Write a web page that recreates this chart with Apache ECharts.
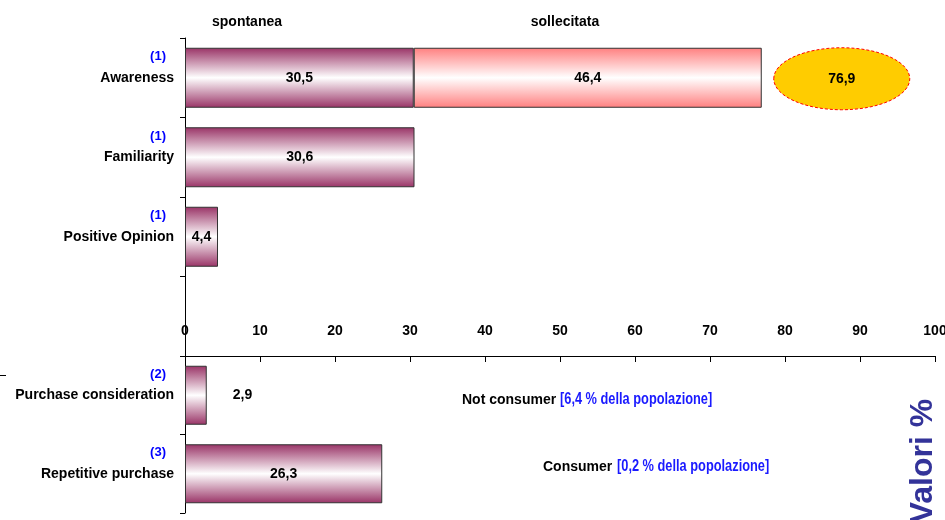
<!DOCTYPE html>
<html><head><meta charset="utf-8">
<script src="https://cdn.jsdelivr.net/npm/echarts@6/dist/echarts.min.js"></script>
<style>html,body{margin:0;padding:0;background:#fff}#c{width:945px;height:520px}</style>
</head><body><div id="c"></div>
<script>
// ---- data ----
const topCategories = ['Awareness', 'Familiarity', 'Positive Opinion', ''];
const topNotes = ['(1)', '(1)', '(1)', ''];
const spontanea = [30.5, 30.6, 4.4, null];
const sollecitata = [46.4, null, null, null];
const bottomCategories = ['Purchase consideration', 'Repetitive purchase'];
const bottomNotes = ['(2)', '(3)'];
const purchase = [2.9, 26.3];
const segmentHeaders = ['spontanea', 'sollecitata'];
const consumerLabels = ['Not consumer', 'Consumer'];
const consumerShares = ['[6,4 % della popolazione]', '[0,2 % della popolazione]'];
const unitLabel = 'Valori %';

// ---- helpers ----
const SANS = '"Liberation Sans", Arial, Helvetica, sans-serif';
const fmt = v => (v == null ? '' : Number(v).toFixed(1).replace('.', ','));
const grad = edge => ({type: 'linear', x: 0, y: 0, x2: 0, y2: 1, colorStops: [
  {offset: 0, color: edge}, {offset: 0.5, color: '#ffffff'}, {offset: 1, color: edge}]});
const MAROON = '#993366', PINK = '#ff7f7f';
const total = spontanea[0] + sollecitata[0];

const catLabel = notes => ({
  margin: 11,
  formatter: (v, i) => v ? '{n|' + notes[i] + '}\n{c|' + v + '}\n{e| }' : '',
  rich: {
    n: {color: '#0000ff', fontFamily: SANS, fontWeight: 'bold', fontSize: 13, lineHeight: 21, padding: [0, 8, 0, 0]},
    c: {color: '#000', fontFamily: SANS, fontWeight: 'bold', fontSize: 14, lineHeight: 21},
    e: {fontSize: 14, lineHeight: 21}
  }
});
const yAxisBase = {
  type: 'category', inverse: true,
  axisLine: {show: true, lineStyle: {color: '#000', width: 1}},
  axisTick: {show: true, length: 5, lineStyle: {color: '#000'}},
  splitLine: {show: false}
};
const barLabel = {show: true, position: 'inside', formatter: p => fmt(p.value),
  color: '#000', fontFamily: SANS, fontWeight: 'bold', fontSize: 14};
const barStyle = edge => ({color: grad(edge), borderColor: '#333', borderWidth: 1});

const chart = echarts.init(document.getElementById('c'), null, {renderer: 'canvas'});
chart.setOption({
  animation: false,
  backgroundColor: '#fff',
  grid: [
    {left: 185, right: 10, top: 38, height: 318, outerBoundsMode: 'none', containLabel: false},
    {left: 185, right: 10, top: 356, height: 157, outerBoundsMode: 'none', containLabel: false}
  ],
  xAxis: [
    {gridIndex: 0, type: 'value', min: 0, max: 100, interval: 10,
     axisLine: {show: true, lineStyle: {color: '#000', width: 1}},
     axisTick: {show: true, inside: false, length: 6, lineStyle: {color: '#000'}},
     axisLabel: {inside: true, margin: 18, color: '#000', fontFamily: SANS, fontWeight: 'bold', fontSize: 14},
     splitLine: {show: false}},
    {gridIndex: 1, type: 'value', min: 0, max: 100, show: false}
  ],
  yAxis: [
    Object.assign({}, yAxisBase, {gridIndex: 0, data: topCategories, axisLabel: catLabel(topNotes)}),
    Object.assign({}, yAxisBase, {gridIndex: 1, data: bottomCategories, axisLabel: catLabel(bottomNotes)})
  ],
  series: [
    {name: segmentHeaders[0], type: 'bar', xAxisIndex: 0, yAxisIndex: 0, stack: 'a', barWidth: 60,
     data: spontanea, itemStyle: barStyle(MAROON), label: barLabel},
    {name: segmentHeaders[1], type: 'bar', xAxisIndex: 0, yAxisIndex: 0, stack: 'a', barWidth: 60,
     data: sollecitata, itemStyle: barStyle(PINK), label: barLabel},
    {type: 'custom', xAxisIndex: 0, yAxisIndex: 0, z: 5,
     data: [[total, 0]],
     renderItem: (params, api) => {
       const p = api.coord([api.value(0), api.value(1)]);
       const cx = p[0] + 80, cy = p[1] + 1;
       return {type: 'group', children: [
         {type: 'ellipse', shape: {cx: cx, cy: cy, rx: 68, ry: 31},
          style: {fill: '#ffcc00', stroke: '#ff0000', lineWidth: 1, lineDash: [3, 2]}},
         {type: 'text', x: cx, y: cy, style: {text: fmt(api.value(0)), align: 'center', verticalAlign: 'middle',
          font: 'bold 14px ' + SANS, fill: '#000'}}
       ]};
     }},
    {type: 'bar', xAxisIndex: 1, yAxisIndex: 1, barWidth: 59,
     data: purchase.map((v, i) => i === 0
       ? {value: v, label: {position: 'right', distance: 26}}
       : {value: v}),
     itemStyle: barStyle(MAROON), label: barLabel}
  ],
  graphic: [
    {type: 'text', x: 247, y: 22, style: {text: segmentHeaders[0], align: 'center', verticalAlign: 'middle', font: 'bold 14px ' + SANS, fill: '#000'}},
    {type: 'text', x: 565, y: 22, style: {text: segmentHeaders[1], align: 'center', verticalAlign: 'middle', font: 'bold 14px ' + SANS, fill: '#000'}},
    {type: 'text', x: 462, y: 400, style: {text: consumerLabels[0], verticalAlign: 'middle', font: 'bold 14px ' + SANS, fill: '#000'}},
    {type: 'text', x: 560, y: 400, scaleX: 0.8, style: {text: consumerShares[0], verticalAlign: 'middle', font: 'bold 16px ' + SANS, fill: '#1a1aff'}},
    {type: 'text', x: 543, y: 467, style: {text: consumerLabels[1], verticalAlign: 'middle', font: 'bold 14px ' + SANS, fill: '#000'}},
    {type: 'text', x: 617, y: 467, scaleX: 0.8, style: {text: consumerShares[1], verticalAlign: 'middle', font: 'bold 16px ' + SANS, fill: '#1a1aff'}},
    {type: 'text', x: 923, y: 461, rotation: Math.PI / 2, style: {text: unitLabel, align: 'center', verticalAlign: 'middle', font: 'bold 32px ' + SANS, fill: '#333399'}},
    {type: 'line', shape: {x1: 0, y1: 375.5, x2: 6, y2: 375.5}, style: {stroke: '#000', lineWidth: 1}}
  ]
});
</script>
</body></html>
